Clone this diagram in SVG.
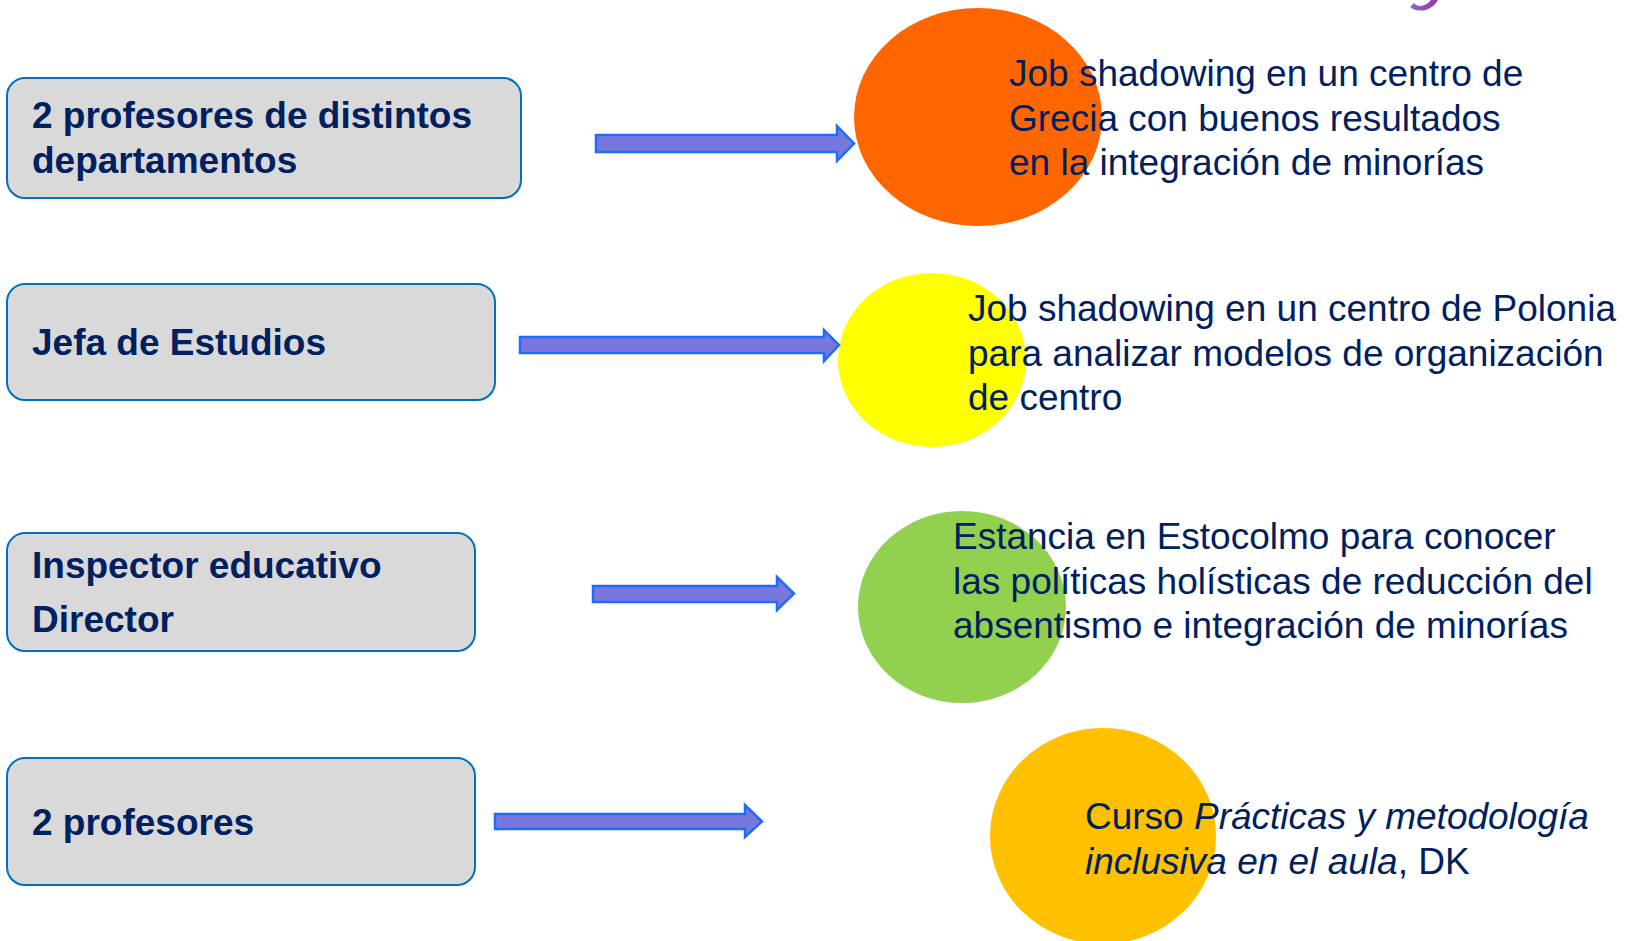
<svg xmlns="http://www.w3.org/2000/svg" width="1625" height="941" viewBox="0 0 1625 941">
<style>
.box{fill:#D9D9D9;stroke:#0070C0;stroke-width:2}
.bt{font-family:"Liberation Sans",Arial,sans-serif;font-weight:bold;font-size:37px;fill:#002060}
.rt{font-family:"Liberation Sans",Arial,sans-serif;font-size:37px;fill:#002060}
.arr{fill:#7878DC;stroke:#1E6CFF;stroke-width:2.5;stroke-linejoin:miter}
</style>
<defs>
<linearGradient id="pg" x1="0" y1="0" x2="1" y2="0">
<stop offset="0" stop-color="#8A6AD0"/>
<stop offset="1" stop-color="#A0309A"/>
</linearGradient>
</defs>
<rect width="1625" height="941" fill="#FFFFFF"/>
<path d="M1410,7 Q1416,12 1426,10 Q1434,7 1438,0 L1431,0 Q1427,5 1421,6 Q1416,6 1414,3 Z" fill="url(#pg)"/>

<g id="circle1"><ellipse cx="978" cy="117" rx="124" ry="109" fill="#FF6600"/></g>
<g id="circle2"><ellipse cx="932" cy="360" rx="94" ry="87" fill="#FFFF00"/></g>
<g id="circle3"><ellipse cx="962" cy="607" rx="104" ry="96" fill="#92D050"/></g>
<g id="circle4"><ellipse cx="1103" cy="836" rx="113" ry="108" fill="#FFC000"/></g>

<g id="node1">
<rect class="box" x="7" y="78" width="514" height="120" rx="18"/>
<text class="bt" x="32" y="128">2 profesores de distintos</text>
<text class="bt" x="32" y="173">departamentos</text>
</g>
<g id="node2">
<rect class="box" x="7" y="284" width="488" height="116" rx="18"/>
<text class="bt" x="32" y="355">Jefa de Estudios</text>
</g>
<g id="node3">
<rect class="box" x="7" y="533" width="468" height="118" rx="18"/>
<text class="bt" x="32" y="578">Inspector educativo</text>
<text class="bt" x="32" y="632">Director</text>
</g>
<g id="node4">
<rect class="box" x="7" y="758" width="468" height="127" rx="18"/>
<text class="bt" x="32" y="835">2 profesores</text>
</g>

<g id="connectors">
<polygon class="arr" points="596,135 837,135 837,126 854,143.5 837,161 837,152 596,152"/>
<polygon class="arr" points="520,337 824,337 824,330 839,345 824,361 824,353 520,353"/>
<polygon class="arr" points="593,586 777,586 777,577 794,593.5 777,610 777,602 593,602"/>
<polygon class="arr" points="495,814 745,814 745,805 762,821.5 745,837 745,829 495,829"/>
</g>

<g id="text1">
<text class="rt" x="1009" y="86">Job shadowing en un centro de</text>
<text class="rt" x="1009" y="131">Grecia con buenos resultados</text>
<text class="rt" x="1009" y="175">en la integración de minorías</text>
</g>
<g id="text2">
<text class="rt" x="968" y="321">Job shadowing en un centro de Polonia</text>
<text class="rt" x="968" y="366">para analizar modelos de organización</text>
<text class="rt" x="968" y="410">de centro</text>
</g>
<g id="text3">
<text class="rt" x="953" y="549">Estancia en Estocolmo para conocer</text>
<text class="rt" x="953" y="594">las políticas holísticas de reducción del</text>
<text class="rt" x="953" y="638">absentismo e integración de minorías</text>
</g>
<g id="text4">
<text class="rt" x="1085" y="829">Curso <tspan font-style="italic">Prácticas y metodología</tspan></text>
<text class="rt" x="1085" y="874"><tspan font-style="italic">inclusiva en el aula</tspan>, DK</text>
</g>
</svg>
